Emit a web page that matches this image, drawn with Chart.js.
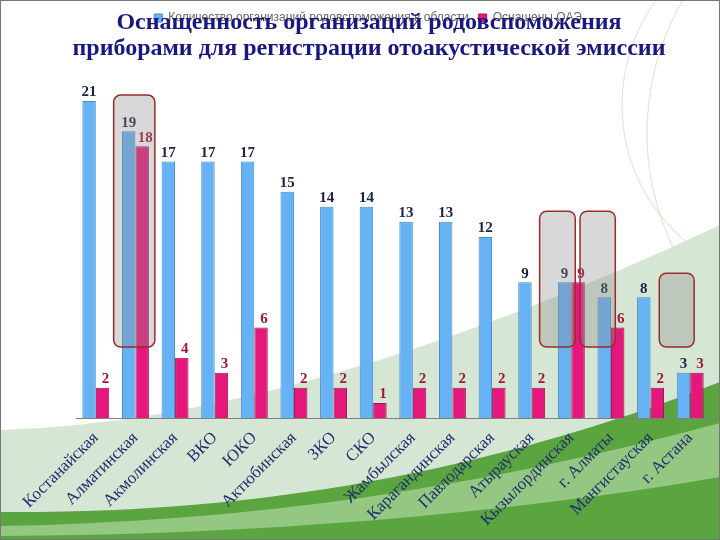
<!DOCTYPE html>
<html lang="ru">
<head>
<meta charset="utf-8">
<title>Оснащенность организаций родовспоможения</title>
<script src="https://cdn.jsdelivr.net/npm/chart.js@4.4.1/dist/chart.umd.min.js"></script>
<style>
  html, body { margin: 0; padding: 0; background: #fff; }
  #wrap { position: relative; width: 720px; height: 540px; overflow: hidden; }
  #chart { position: absolute; left: 0; top: 0; }
  #title {
    position: absolute; left: 0; top: 8px; width: 738px;
    text-align: center; color: #18187e; pointer-events: none;
    font: bold 24px/26px "Liberation Serif", "DejaVu Serif", serif;
  }
</style>
</head>
<body>
<div id="wrap">
  <canvas id="chart" width="720" height="540"></canvas>
  <div id="title">Оснащенность организаций родовспоможения<br>приборами для регистрации отоакустической эмиссии</div>
</div>
<script>
// Регионы (ось X)
const regions = ['Костанайская', 'Алматинская', 'Акмолинская', 'ВКО', 'ЮКО', 'Актюбинская', 'ЗКО', 'СКО',
    'Жамбылская', 'Карагандинская', 'Павлодарская', 'Атырауская', 'Кызылординская', 'г. Алматы',
    'Мангистауская', 'г. Астана'];

// Значения серий
const totalOrgs = [21, 19, 17, 17, 17, 15, 14, 14, 13, 13, 12, 9, 9, 8, 8, 3];
const equippedOrgs = [2, 18, 4, 3, 6, 2, 2, 1, 2, 2, 2, 2, 9, 6, 2, 3];
const seriesNames = ['Количество организаций родовспоможения в области', 'Оснащены ОАЭ'];

// Выделенные рамки: диапазон по категориям и по значениям
const frameFrom = [0.45, 11.2, 12.22, 14.22];
const frameTo = [1.49, 12.1, 13.11, 15.1];
const frameLow = [4.7, 4.7, 4.7, 4.7];
const frameHigh = [21.4, 13.7, 13.7, 9.6];

// Фон слайда (зеленые волны)
const slideBackground = {
    id: 'slideBackground',
    beforeDraw(chart) {
        const ctx = chart.ctx;
        const w = chart.width, h = chart.height;
        ctx.save();
        ctx.fillStyle = '#ffffff';
        ctx.fillRect(0, 0, w, h);

        // бледные дуги справа вверху
        ctx.strokeStyle = 'rgba(205, 205, 185, 0.55)';
        ctx.lineWidth = 1.2;
        ctx.beginPath();
        ctx.arc(800, 105, 178, Math.PI * 0.6, Math.PI * 1.3);
        ctx.stroke();
        ctx.beginPath();
        ctx.arc(911, 133, 264, Math.PI * 0.82, Math.PI * 1.2);
        ctx.stroke();

        ctx.fillStyle = '#d6e6d4';
        ctx.beginPath();
        ctx.moveTo(0, 430);
        ctx.quadraticCurveTo(300, 422, w, 225);
        ctx.lineTo(w, h);
        ctx.lineTo(0, h);
        ctx.closePath();
        ctx.fill();

        ctx.fillStyle = '#5aa53f';
        ctx.beginPath();
        ctx.moveTo(0, 512);
        ctx.bezierCurveTo(250, 514, 480, 475, w, 382);
        ctx.lineTo(w, h);
        ctx.lineTo(0, h);
        ctx.closePath();
        ctx.fill();

        ctx.fillStyle = '#93c782';
        ctx.beginPath();
        ctx.moveTo(0, 526);
        ctx.bezierCurveTo(250, 522, 480, 488, w, 423);
        ctx.lineTo(w, 477);
        ctx.bezierCurveTo(500, 515, 250, 535, 0, 536);
        ctx.closePath();
        ctx.fill();
        ctx.restore();
    }
};

// Подписи значений над столбиками
const valueLabels = {
    id: 'valueLabels',
    afterDatasetsDraw(chart) {
        const ctx = chart.ctx;
        ctx.save();
        ctx.textAlign = 'center';
        ctx.textBaseline = 'bottom';
        ctx.font = 'bold 15px "Liberation Serif", serif';
        chart.data.datasets.forEach((ds, di) => {
            const meta = chart.getDatasetMeta(di);
            meta.data.forEach((bar, i) => {
                ctx.fillStyle = di === 0 ? '#1c2340' : '#9c1b2e';
                ctx.fillText(ds.data[i], bar.x + (di === 0 ? 0 : 3), bar.y - 1);
            });
        });
        ctx.restore();
    }
};

// Рамки выделения
const highlightFrames = {
    id: 'highlightFrames',
    afterDraw(chart) {
        const ctx = chart.ctx;
        const xs = chart.scales.x, ys = chart.scales.y;
        ctx.save();
        frameFrom.forEach((from, i) => {
            const x1 = xs.getPixelForValue(from);
            const x2 = xs.getPixelForValue(frameTo[i]);
            const y1 = ys.getPixelForValue(frameHigh[i]);
            const y2 = ys.getPixelForValue(frameLow[i]);
            ctx.beginPath();
            ctx.roundRect(x1, y1, x2 - x1, y2 - y1, 7);
            ctx.fillStyle = 'rgba(140, 140, 140, 0.34)';
            ctx.fill();
            ctx.lineWidth = 1.5;
            ctx.strokeStyle = '#9b2a2a';
            ctx.stroke();
        });
        ctx.strokeStyle = '#777';
        ctx.lineWidth = 1;
        ctx.strokeRect(0.5, 0.5, chart.width - 1, chart.height - 1);
        ctx.restore();
    }
};

// Дополнительное место под легендой
const legendSpacer = {
    id: 'legendSpacer',
    beforeInit(chart) {
        const fit = chart.legend.fit;
        chart.legend.fit = function () {
            fit.bind(chart.legend)();
            this.height += 52;
        };
    }
};

const ctx = document.getElementById('chart').getContext('2d');
new Chart(ctx, {
    type: 'bar',
    data: {
        labels: regions,
        datasets: [
            {
                label: seriesNames[0],
                data: totalOrgs,
                backgroundColor: '#65b2f4',
                borderColor: '#4a88c4',
                borderWidth: 1,
                borderSkipped: 'bottom'
            },
            {
                label: seriesNames[1],
                data: equippedOrgs,
                backgroundColor: '#e5177b',
                borderColor: '#9d1050',
                borderWidth: 1,
                borderSkipped: 'bottom'
            }
        ]
    },
    options: {
        responsive: false,
        animation: false,
        layout: { padding: { top: 2, right: 10, bottom: 0, left: 26 } },
        datasets: { bar: { categoryPercentage: 0.68, barPercentage: 1.0 } },
        scales: {
            x: {
                grid: { display: false },
                border: { display: true, color: '#7f7f7f' },
                ticks: {
                    autoSkip: false,
                    minRotation: 45,
                    maxRotation: 45,
                    padding: 2,
                    color: '#22306e',
                    font: { family: '"Liberation Serif", serif', size: 17 }
                },
                afterFit: s => { s.height = 122; }
            },
            y: {
                min: 0,
                max: 22,
                grid: { display: false },
                border: { display: false },
                ticks: { display: false },
                afterFit: s => { s.width = 50; }
            }
        },
        plugins: {
            legend: {
                position: 'top',
                labels: {
                    boxWidth: 8,
                    boxHeight: 8,
                    padding: 10,
                    color: '#666',
                    font: { family: '"Liberation Sans", sans-serif', size: 12 }
                }
            },
            tooltip: { enabled: false }
        }
    },
    plugins: [slideBackground, valueLabels, highlightFrames, legendSpacer]
});
</script>
</body>
</html>
